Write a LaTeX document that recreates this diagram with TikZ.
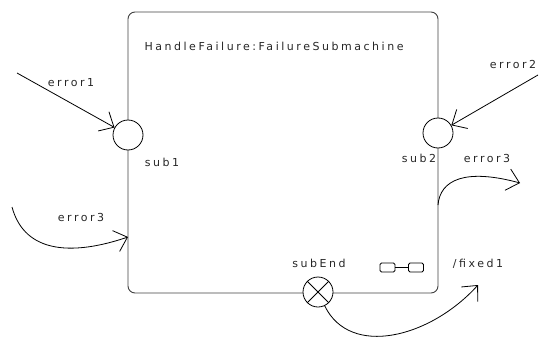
\documentclass[tikz,border=0pt]{standalone}
\usepackage{fontspec}
\setmainfont{DejaVu Sans}[LetterSpace=23]
\usetikzlibrary{arrows.meta}

\begin{document}
\begin{tikzpicture}[
    x = 1pt, y = -1pt,
    every node/.style = {font = \fontsize{11}{13}\selectfont, text = black!85},
    submachine/.style = {draw = black!75, rounded corners = 7pt, line width = 0.9pt,
        minimum width = 310pt, minimum height = 281pt},
    point/.style = {draw, circle, fill = white, minimum size = 30pt, inner sep = 0pt, line width = 0.8pt},
    link/.style = {draw, rounded corners = 1.5pt, minimum width = 15pt, minimum height = 9pt,
        inner sep = 0pt, line width = 0.8pt},
    trans/.style = {line width = 0.8pt, -{Straight Barb[length = 12pt, width = 22pt]}}]

\useasboundingbox (0,0) rectangle (541,340);

\node[submachine] (sm) at (283,152.5) {};
\path (141,46) node[anchor = west] (title) {HandleFailure:FailureSubmachine};

\node[point] (sub1) at (128,135) {};
\node[point] (sub2) at (438,133) {};
\node[point] (subEnd) at (318,292) {};
\draw[line width = 0.8pt] (subEnd.north west) -- (subEnd.south east)
      (subEnd.north east) -- (subEnd.south west);

\node[link] (linkL) at (387.5,267.5) {};
\node[link] (linkR) at (416,267.5) {};
\draw[line width = 0.8pt] (linkL) -- (linkR);

\coordinate (in1) at (17,73);
\coordinate (in2) at (538,75);
\coordinate (in3) at (12,207);
\coordinate (hit3) at (128,237);
\coordinate (out3) at (438,205);
\coordinate (tip3) at (520,183);
\coordinate (tipF) at (478,285);

\draw[trans] (in1) -- (sub1);
\draw[trans] (in2) -- (sub2);
\draw[trans] (in3) .. controls (25,255) and (75,255) .. (hit3);
\draw[trans] (out3) .. controls (440,180) and (465,168) .. (tip3);
\draw[trans] (subEnd) .. controls (350,358) and (430,338) .. (tipF);

\path (71,83) node (e1) {error1}
      (513,64) node (e2) {error2}
      (81,217) node (e3l) {error3}
      (487,158) node (e3r) {error3}
      (162,162) node (s1) {sub1}
      (419,158) node (s2) {sub2}
      (319,263) node (sE) {subEnd}
      (478,264) node (f1) {/fixed1};
\end{tikzpicture}
\end{document}
